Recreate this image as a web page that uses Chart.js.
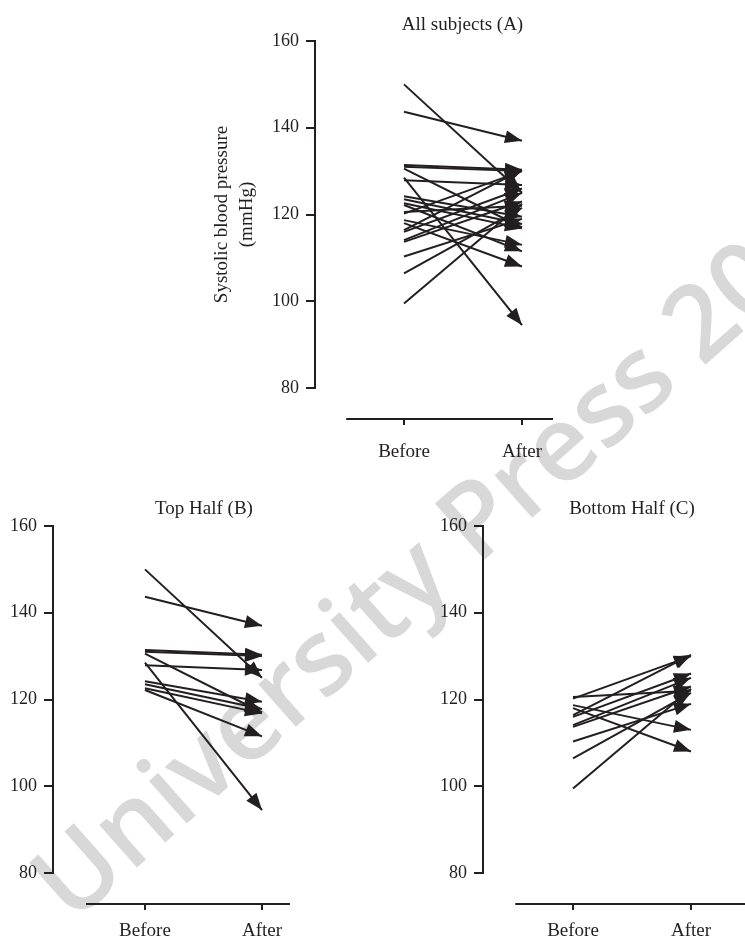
<!DOCTYPE html>
<html>
<head>
<meta charset="utf-8">
<script src="https://cdn.jsdelivr.net/npm/chart.js@4.4.1/dist/chart.umd.min.js"></script>
<style>
  html, body { margin:0; padding:0; width:745px; height:938px; overflow:hidden; background:#fff; }
  .panel { position:absolute; }
  #wm {
    position:absolute; left:72px; top:925px; white-space:nowrap;
    font-family:'Open Sans', sans-serif; font-weight:600; font-size:105px; line-height:105px;
    color:#d8d8d8; transform-origin:0 0; transform:rotate(-41.5deg) translateY(-93px);
  }
</style>
</head>
<body>
<div id="wm">University Press 2020</div>
<div class="panel" style="left:190px;top:0px;"><canvas id="cA" width="420" height="470"></canvas></div>
<div class="panel" style="left:0px;top:484px;"><canvas id="cB" width="355" height="454"></canvas></div>
<div class="panel" style="left:430px;top:484px;"><canvas id="cC" width="351" height="454"></canvas></div>
<script>
// ---- data ----
const timeLabels = ['Before', 'After'];
const yTicks = [80, 100, 120, 140, 160];
const panelTitles = ['All subjects (A)', 'Top Half (B)', 'Bottom Half (C)'];
const yAxisTitle = ['Systolic blood pressure', '(mmHg)'];

const topBefore    = [150, 143.7, 131.4, 131, 130.6, 128.5, 127.9, 124.2, 123.5, 122.6, 122.2];
const topAfter     = [125, 137, 130.3, 130, 117, 94.5, 126.8, 119.5, 117.8, 116.8, 111.5];
const bottomBefore = [120.6, 120.2, 118.7, 118, 116.4, 116, 114.1, 113.7, 110.3, 106.4, 99.5];
const bottomAfter  = [122, 130, 113, 108, 130.3, 126, 125, 123, 119, 121.5, 122.5];

const allBefore = topBefore.concat(bottomBefore);
const allAfter  = topAfter.concat(bottomAfter);

// ---- styling ----
const INK = '#231f20';
const SERIF = "'Liberation Serif', 'Times New Roman', serif";

const arrowPlugin = {
  id: 'pairArrows',
  beforeDatasetsDraw(chart, args, opts) {
    const ctx = chart.ctx, xs = chart.scales.x, ys = chart.scales.y;
    const py = Math.round(ys.getPixelForValue(opts.axisAt));
    ctx.save();
    ctx.strokeStyle = INK; ctx.lineWidth = 2;
    ctx.beginPath();
    ctx.moveTo(xs.getPixelForValue(opts.axisFrom), py);
    ctx.lineTo(xs.getPixelForValue(opts.axisTo), py);
    ctx.stroke();
    ctx.restore();
  },
  afterDatasetsDraw(chart, args, opts) {
    const ctx = chart.ctx;
    ctx.save();
    ctx.fillStyle = INK;
    chart.data.datasets.forEach((ds, i) => {
      const pts = chart.getDatasetMeta(i).data;
      if (pts.length < 2) return;
      const p0 = pts[0], p1 = pts[1];
      const ang = Math.atan2(p1.y - p0.y, p1.x - p0.x);
      ctx.save();
      ctx.translate(p1.x, p1.y);
      ctx.rotate(ang);
      ctx.beginPath();
      ctx.moveTo(0, 0);
      ctx.lineTo(-opts.len, -opts.half);
      ctx.lineTo(-opts.len, opts.half);
      ctx.closePath();
      ctx.fill();
      ctx.restore();
    });
    ctx.restore();
  }
};

function makePanel(id, title, before, after, cfg) {
  const datasets = before.map((b, i) => ({
    data: [{x: 0, y: b}, {x: 1, y: after[i]}],
    borderColor: INK, borderWidth: 2, pointRadius: 0, tension: 0, clip: false
  }));
  return new Chart(document.getElementById(id), {
    type: 'line',
    data: { datasets },
    plugins: [arrowPlugin],
    options: {
      responsive: false, animation: false, devicePixelRatio: 1,
      layout: { padding: { left: 0, right: 0, top: 0, bottom: cfg.padBottom } },
      plugins: {
        legend: { display: false },
        tooltip: { enabled: false },
        title: {
          display: true, text: title, fullSize: false, color: INK,
          font: { family: SERIF, size: 19, weight: 'normal' },
          padding: { top: cfg.titleTop, bottom: cfg.titleBottom }
        },
        pairArrows: { len: 17, half: 6.5, axisAt: 72.9, axisFrom: cfg.axisFrom, axisTo: cfg.axisTo }
      },
      scales: {
        x: {
          type: 'linear', min: cfg.xMin, max: cfg.xMax,
          position: { y: 72.9 },
          afterBuildTicks: s => { s.ticks = timeLabels.map((t, i) => ({ value: i })); },
          ticks: {
            autoSkip: false, color: INK, padding: cfg.xPad,
            font: { family: SERIF, size: 19 },
            callback: v => timeLabels[Math.round(v)]
          },
          grid: { display: true, drawOnChartArea: false, drawTicks: true, tickLength: 6, color: INK, lineWidth: 2 },
          border: { display: false }
        },
        y: {
          type: 'linear', position: 'left', min: 80, max: 160,
          afterBuildTicks: s => { s.ticks = yTicks.map(v => ({ value: v })); },
          afterFit: s => { s.width = cfg.yWidth; },
          ticks: { color: INK, padding: 7, font: { family: SERIF, size: 18 } },
          grid: { display: true, drawOnChartArea: false, drawTicks: true, tickLength: 9, color: INK, lineWidth: 2 },
          border: { display: true, color: INK, width: 2 },
          title: cfg.yTitle ? {
            display: true, text: yAxisTitle, color: INK,
            font: { family: SERIF, size: 19, lineHeight: 1.316 },
            padding: { top: 19.5, bottom: 0 }
          } : { display: false }
        }
      }
    }
  });
}

makePanel('cA', panelTitles[0], allBefore, allAfter, {
  padBottom: 82, titleTop: 14, titleBottom: 4.2, yWidth: 125, xPad: 16,
  xMin: -0.7542, xMax: 1.7458, axisFrom: -0.49, axisTo: 1.263, yTitle: true
});
makePanel('cB', panelTitles[1], topBefore, topAfter, {
  padBottom: 65, titleTop: 13.6, titleBottom: 5.6, yWidth: 53, xPad: 10,
  xMin: -0.786, xMax: 1.795, axisFrom: -0.504, axisTo: 1.239, yTitle: false
});
makePanel('cC', panelTitles[2], bottomBefore, bottomAfter, {
  padBottom: 65, titleTop: 13.6, titleBottom: 5.6, yWidth: 53, xPad: 10,
  xMin: -0.763, xMax: 1.763, axisFrom: -0.49, axisTo: 1.5, yTitle: false
});
</script>
</body>
</html>
